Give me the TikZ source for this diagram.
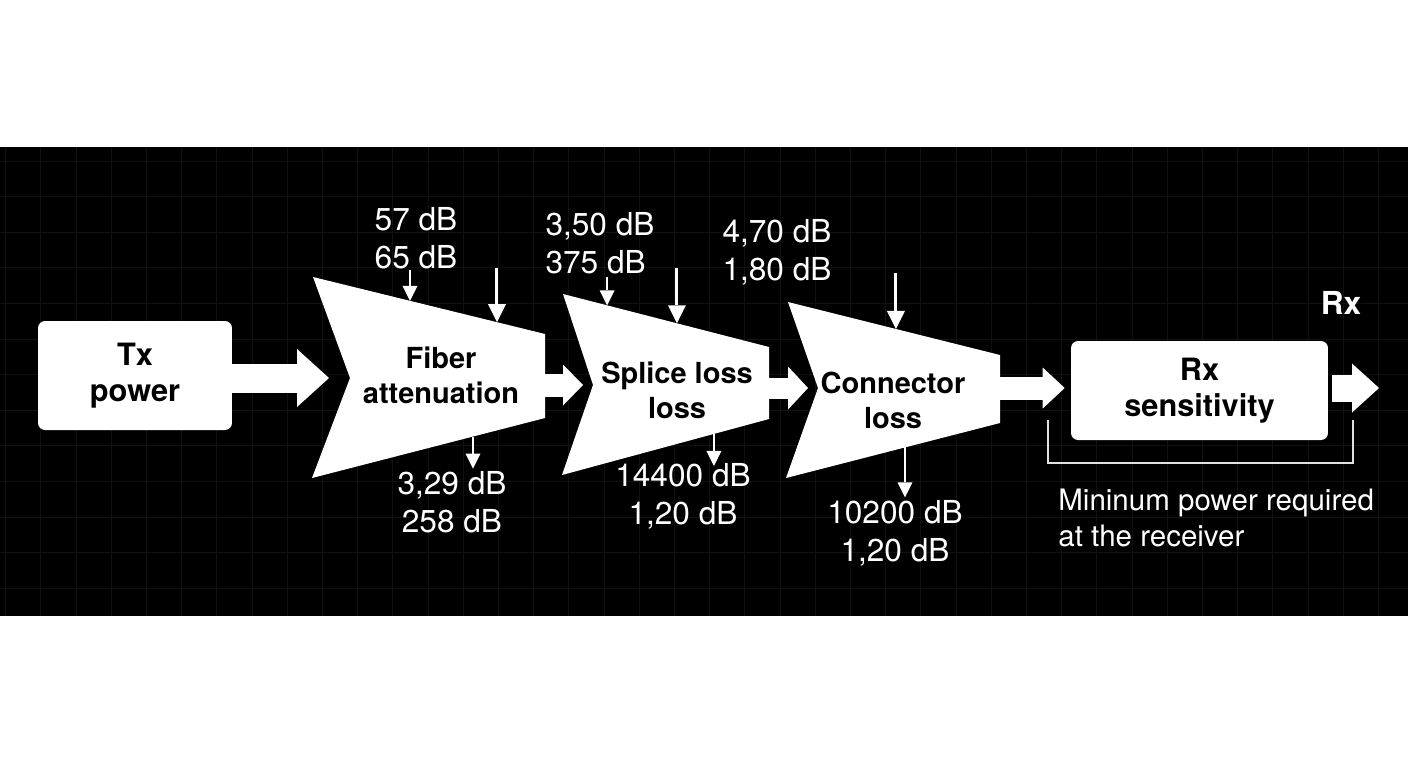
\documentclass[tikz,border=0pt]{standalone}
\usepackage{fontspec}
\setmainfont{TeX Gyre Heros}
\usetikzlibrary{%
    arrows.meta,%
    calc,%
    positioning%
}
\definecolor{gridline}{RGB}{17,17,17}
\definecolor{bracketgray}{RGB}{225,225,225}

\tikzset{
    block/.style={fill=white, rounded corners=0.14cm, text=black, align=center, inner sep=0pt,
        font=\bfseries\fontsize{17.5}{20.5}\selectfont},
    stage/.style={fill=white},
    stagelabel/.style={text=black, align=center, inner sep=0pt,
        font=\bfseries\fontsize{16.5}{20}\selectfont},
    dbvalue/.style={text=white, inner sep=0pt, font=\fontsize{18}{21.6}\selectfont},
    flow/.style={draw=white},
    lossarrow/.style={draw=white, line width=0.04cm,
        -{Triangle[length=0.3cm,width=0.3cm,line width=0pt]}},
    biglossarrow/.style={draw=white, line width=0.06cm,
        -{Triangle[length=0.36cm,width=0.36cm,line width=0pt]}},
    bracket/.style={draw=bracketgray, line width=0.04cm}
}

\begin{document}
\begin{tikzpicture}[x=0.02cm, y=-0.02cm]

				\useasboundingbox (0,0) rectangle (1408,768);
				\fill[white] (0,0) rectangle (1408,768);
				\fill[black] (0,147) rectangle (1408,616);
				% faint grid on the band
				\foreach \k in {0,...,39}
					\draw[gridline, line width=0.4pt] (5.5+35.2*\k,147) -- (5.5+35.2*\k,616);
				\foreach \k in {0,...,12}
					\draw[gridline, line width=0.4pt] (0,161+35.6*\k) -- (1408,161+35.6*\k);

				% source and receiver
				\node[block, minimum width=3.88cm, minimum height=2.18cm] (tx) at (135,375.5) {Tx\\power};
				\node[block, minimum width=5.14cm, minimum height=1.98cm] (rx) at (1199.5,390.5) {Rx\\sensitivity};
				\node[text=white, inner sep=0pt, font=\bfseries\fontsize{18}{21.6}\selectfont] (rxlabel) at (1341,303) {Rx};

				% loss stages
				\coordinate (fibTL) at (313,277);
				\coordinate (fibTR) at (545,334);
				\coordinate (fibBR) at (545,418);
				\coordinate (fibBL) at (312,478);
				\coordinate (fibN) at (350,378);
				\fill[stage] (fibTL) -- (fibTR) -- (fibBR) -- (fibBL) -- (fibN) -- cycle;
				\node[stagelabel] (fiber) at (441,375) {Fiber\\attenuation};

				\coordinate (splTL) at (563,294);
				\coordinate (splTR) at (769,347);
				\coordinate (splBR) at (769,419);
				\coordinate (splBL) at (562,475);
				\coordinate (splN) at (593,385);
				\fill[stage] (splTL) -- (splTR) -- (splBR) -- (splBL) -- (splN) -- cycle;
				\node[stagelabel] (splice) at (677,390) {Splice loss\\loss};

				\coordinate (conTL) at (788,302);
				\coordinate (conTR) at (1000,355);
				\coordinate (conBR) at (1000,423);
				\coordinate (conBL) at (786,478);
				\coordinate (conN) at (818,388);
				\fill[stage] (conTL) -- (conTR) -- (conBR) -- (conBL) -- (conN) -- cycle;
				\node[stagelabel] (connector) at (893,400) {Connector\\loss};

				% power flow
				\draw[flow, line width=0.58cm, shorten >=0.42cm,
					-{Triangle[length=0.64cm,width=1.16cm,line width=0pt]}] (tx.east |- fibN) -- (fibN);
				\draw[flow, line width=0.46cm, shorten >=0.2cm,
					-{Triangle[length=0.4cm,width=0.82cm,line width=0pt]}] (fibTR |- splN) -- (splN);
				\draw[flow, line width=0.42cm, shorten >=0.2cm,
					-{Triangle[length=0.4cm,width=0.86cm,line width=0pt]}] (splTR |- conN) -- (conN);
				\draw[flow, line width=0.46cm, shorten >=0.12cm,
					-{Triangle[length=0.44cm,width=0.82cm,line width=0pt]}] (conTR |- conN) -- (rx.west |- conN);
				\coordinate (rxout) at (1379,388);
				\draw[flow, line width=0.54cm, shorten <=0.08cm,
					-{Triangle[length=0.54cm,width=0.98cm,line width=0pt]}] (rx.east |- rxout) -- (rxout);

				% values
				\node[dbvalue, align=left] (fibtop) at (416,238) {57 dB\\65 dB};
				\node[dbvalue, align=left] (spltop) at (600,243) {3,50 dB\\375 dB};
				\node[dbvalue, align=left] (contop) at (777,252) {4,70 dB\\1,80 dB};
				\node[dbvalue, align=center] (fibbot) at (452,502) {3,29 dB\\258 dB};
				\node[dbvalue, align=center] (splbot) at (683,496) {14400 dB\\1,20 dB};
				\node[dbvalue, align=center] (conbot) at (895,533) {10200 dB\\1,20 dB};

				\draw[lossarrow] ($(fibTL)!0.418!(fibTR)+(0,-31)$) -- ($(fibTL)!0.418!(fibTR)$);
				\draw[biglossarrow] ($(fibTL)!0.793!(fibTR)+(0,-54)$) -- ($(fibTL)!0.793!(fibTR)$);
				\draw[lossarrow] ($(fibBR)!0.309!(fibBL)$) -- ++(0,32);
				\draw[lossarrow] ($(splTL)!0.214!(splTR)+(0,-28)$) -- ($(splTL)!0.214!(splTR)$);
				\draw[biglossarrow] ($(splTL)!0.553!(splTR)+(0,-55)$) -- ($(splTL)!0.553!(splTR)$);
				\draw[lossarrow] ($(splBR)!0.266!(splBL)$) -- ++(0,32);
				\draw[biglossarrow] ($(conTL)!0.509!(conTR)+(0,-56)$) -- ($(conTL)!0.509!(conTR)$);
				\draw[lossarrow] ($(conBR)!0.444!(conBL)$) -- ++(0,50);

				% receiver requirement
				\coordinate (brL) at (1048,420);
				\coordinate (brR) at (1353,420);
				\draw[bracket] (brL) -- ++(0,43) -| (brR);
				\node[text=white, inner sep=0pt, anchor=west, align=left,
					font=\fontsize{16.8}{20}\selectfont] (minnote) at (1058,518) {Mininum power required\\at the receiver};
			\end{tikzpicture}
\end{document}
